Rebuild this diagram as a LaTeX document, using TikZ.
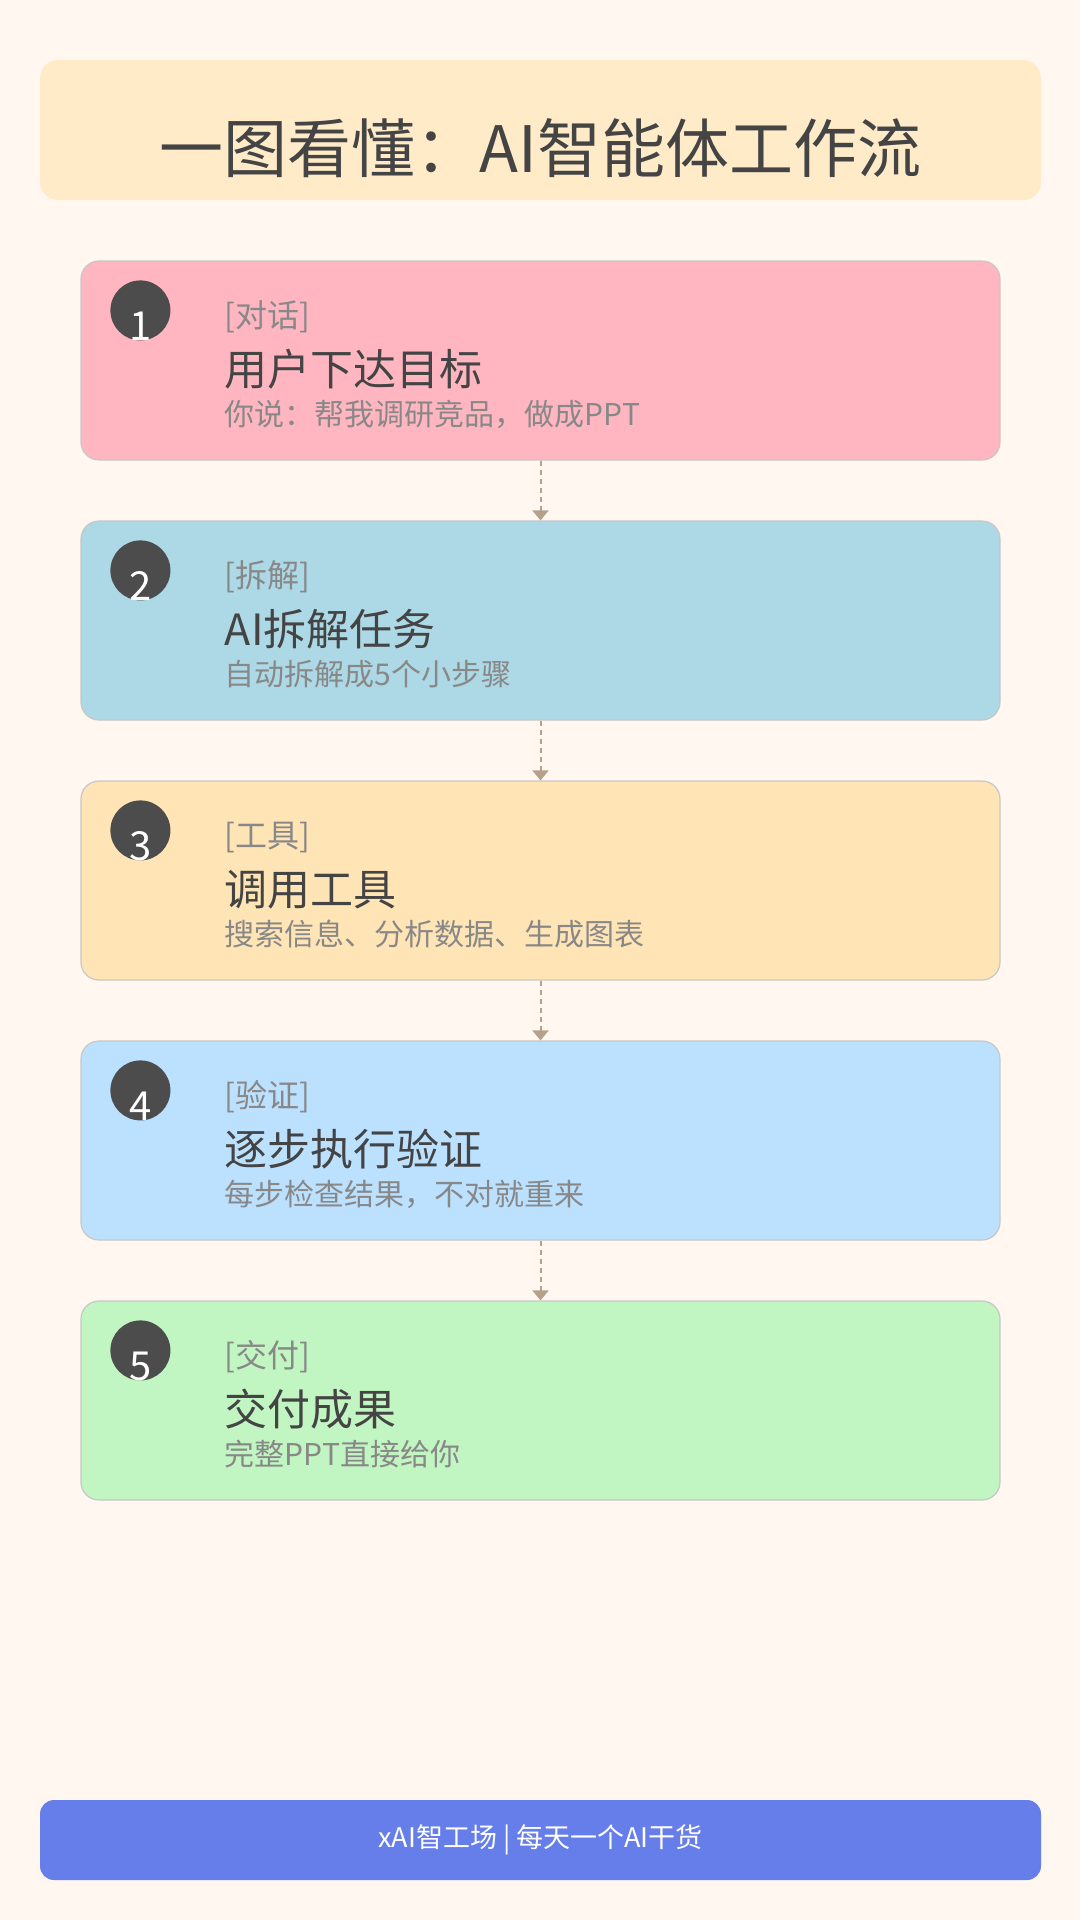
\documentclass[tikz,border=0pt]{standalone}
\usepackage{fontspec}
\setmainfont{Noto Sans CJK SC}
\usetikzlibrary{arrows.meta,positioning}
\definecolor{pagebg}{HTML}{FFF7F0}
\definecolor{titlebg}{HTML}{FFEBC8}
\definecolor{inkdark}{HTML}{444444}
\definecolor{inkgrey}{HTML}{888888}
\definecolor{linkc}{HTML}{B5A08A}
\definecolor{footbg}{HTML}{667EEA}
\definecolor{stepa}{HTML}{FFB6C1}
\definecolor{stepb}{HTML}{ADD8E6}
\definecolor{stepc}{HTML}{FFE4B5}
\definecolor{stepd}{HTML}{BBE1FF}
\definecolor{stepe}{HTML}{C1F5C1}
\begin{document}
\begin{tikzpicture}[
  x=1pt, y=-1pt,
  stepbox/.style={draw=black!22, line width=1.2pt, rounded corners=18pt, minimum width=919pt, minimum height=199pt, inner sep=0pt},
  badge/.style={circle, fill=black!70, minimum size=60pt, inner sep=0pt},
  tag/.style  ={anchor=base west, text=inkgrey, font=\fontsize{32}{36}\selectfont},
  head/.style ={anchor=base west, text=inkdark, font=\fontsize{43}{48}\selectfont},
  note/.style ={anchor=base west, text=inkgrey, font=\fontsize{30}{34}\selectfont},
  link/.style ={draw=linkc, line width=2pt, dash pattern=on 5pt off 4pt, -{Triangle[length=10pt,width=16pt,fill=linkc]}},
]
\fill[pagebg] (0,0) rectangle (1080,1920);
\useasboundingbox (0,0) rectangle (1080,1920);

\node[fill=titlebg, rounded corners=18pt, minimum width=1001pt, minimum height=140pt] (title) at (540.5,130) {};
\node[text=inkdark, font=\fontsize{64}{70}\selectfont, anchor=base] (titletext) at ([yshift=-42pt]title.center)
  {一图看懂：AI智能体工作流};

\foreach \i/\c/\t/\h/\n in {
  1/stepa/对话/用户下达目标/你说：帮我调研竞品，做成PPT,
  2/stepb/拆解/AI拆解任务/自动拆解成5个小步骤,
  3/stepc/工具/调用工具/搜索信息、分析数据、生成图表,
  4/stepd/验证/逐步执行验证/每步检查结果，不对就重来,
  5/stepe/交付/交付成果/完整PPT直接给你}{
  \node[stepbox, fill=\c] (s\i) at (540.5,{360.5+260*(\i-1)}) {};
  \node[badge] (b\i) at ([xshift=60pt,yshift=-50pt]s\i.north west) {};
  \node[anchor=base, text=white, font=\fontsize{40}{44}\selectfont] at ([yshift=-30pt]b\i.center) {\i};
  \node[tag]  (t\i) at ([xshift=141pt,yshift=-67pt]s\i.north west) {[\t]};
  \node[head] (h\i) at ([xshift=141pt,yshift=-125pt]s\i.north west) {\h};
  \node[note] (n\i) at ([xshift=141pt,yshift=-165pt]s\i.north west) {\n};
}

\foreach \i [evaluate=\i as \j using int(\i+1)] in {1,...,4}
  \draw[link] (s\i.south) -- (s\j.north);

\node[fill=footbg, rounded corners=14pt, minimum width=1001pt, minimum height=80pt] (foot) at (540.5,1840)
  {\fontsize{27}{30}\selectfont\color{white}xAI智工场 | 每天一个AI干货};
\end{tikzpicture}
\end{document}
